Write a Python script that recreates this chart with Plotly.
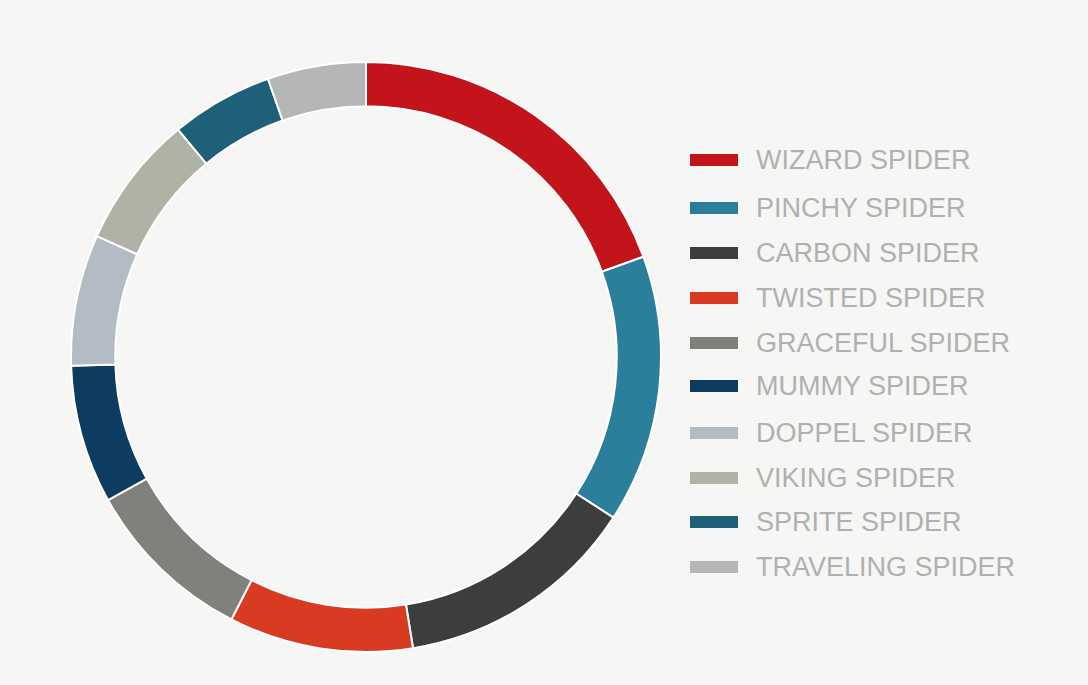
import plotly.graph_objects as go

labels = ["WIZARD SPIDER", "PINCHY SPIDER", "CARBON SPIDER", "TWISTED SPIDER",
          "GRACEFUL SPIDER", "MUMMY SPIDER", "DOPPEL SPIDER", "VIKING SPIDER",
          "SPRITE SPIDER", "TRAVELING SPIDER"]
values = [19.5, 14.7, 13.3, 10.1, 9.4, 7.6, 7.2, 7.3, 5.6, 5.4]
colors = ["#c3141b", "#2b7f9b", "#3d3d40", "#d83b22", "#80817d",
          "#0e3c60", "#b3bcc5", "#aeb3a5", "#1e6079", "#b5b6b8"]

W, H = 1088, 685
cx, cy, r = 366, 357, 295

fig = go.Figure()
fig.add_trace(go.Pie(
    labels=labels, values=values, hole=0.85, sort=False, direction="clockwise",
    rotation=0, textinfo="none", hoverinfo="label+percent",
    marker=dict(colors=colors, line=dict(color="#ffffff", width=2)),
    domain=dict(x=[(cx - r) / W, (cx + r) / W],
                y=[(H - cy - r) / H, (H - cy + r) / H]),
    showlegend=False,
))

shapes = []
annotations = []
row_y = [160, 208, 253, 298, 343, 386, 433, 478, 522, 567]
for lab, col, y in zip(labels, colors, row_y):
    shapes.append(dict(type="rect", xref="paper", yref="paper",
                       x0=690 / W, x1=738 / W,
                       y0=(H - y - 6) / H, y1=(H - y + 6) / H,
                       fillcolor=col, line=dict(width=0)))
    annotations.append(dict(xref="paper", yref="paper", x=754 / W, y=(H - y) / H,
                            xanchor="left", yanchor="middle", showarrow=False,
                            text=lab, font=dict(family="Liberation Sans", size=27,
                                                color="#b0b0b0")))

fig.update_layout(
    width=W, height=H, margin=dict(l=0, r=0, t=0, b=0),
    paper_bgcolor="#f6f6f4", plot_bgcolor="#f6f6f4",
    shapes=shapes, annotations=annotations,
)
fig.write_html("out.html")
